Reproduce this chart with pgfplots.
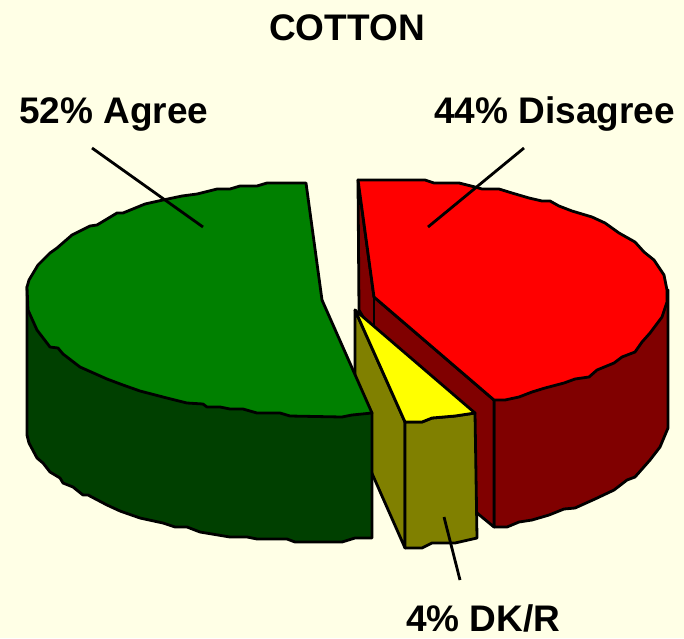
\documentclass[border=0pt]{standalone}
\usepackage{pgfplots}
\pgfplotsset{compat=1.18}
\usepackage{fontspec}
\setmainfont{Liberation Sans}
\definecolor{bgc}{HTML}{FFFFE6}
\definecolor{gtop}{HTML}{008000}
\definecolor{gside}{HTML}{004000}
\definecolor{rtop}{HTML}{FF0000}
\definecolor{rside}{HTML}{800000}
\definecolor{ytop}{HTML}{FFFF00}
\definecolor{yside}{HTML}{808000}
\tikzset{lab/.style={anchor=base west,inner sep=0pt,font=\fontsize{37}{40}\selectfont\bfseries}}
\begin{document}
\begin{tikzpicture}
\begin{axis}[
  x=1pt,y=1pt,xmin=0,xmax=684,ymin=0,ymax=638,y dir=reverse,
  axis line style={draw=none},ticks=none,clip=false,
  axis background/.style={fill=bgc},
  every axis plot/.append style={line width=2.8pt,line join=round,draw=black},
]
% red outer side
\addplot[fill=rside] coordinates {(668,290)(668,428)(660,447)(650,460)(635,477)(627,480)(614,490)(595,499)(575,508)(564,509)(549,515)(532,520)(519,522)(507,527)(494,527)(494,400)} -- cycle;
% red cut side
\addplot[fill=rside] coordinates {(358,180)(374,297)(494,400)(494,527)(477,513)(359,310)} -- cycle;
\addplot[black,no marks] coordinates {(374,297)(374,325)};
% olive side
\addplot[fill=yside] coordinates {(355,310)(405,422)(405,548)(355,435)} -- cycle;
% olive front
\addplot[fill=yside] coordinates {(405,422)(422,422)(432,418)(455,416)(475,413)(477,538)(455,543)(432,543)(422,548)(405,548)} -- cycle;
% yellow top
\addplot[fill=ytop] coordinates {(355,310)(475,413)(455,416)(432,418)(422,422)(405,422)} -- cycle;
% green side
\addplot[fill=gside] coordinates {(27,287)(27,435)(29,443)(37,458)(43,463)(50,472)(60,478)(63,483)(73,487)(83,495)(88,495)(107,505)(120,511)(140,518)(163,523)(175,527)(187,527)(200,532)(230,537)(247,537)(257,539)(287,539)(295,542)(342,542)(355,538)(372,538)(372,413)} -- cycle;
% green top
\addplot[fill=gtop] coordinates {(306,183)(322,300)(372,413)(352,415)(342,417)(290,416)(280,413)(257,413)(243,409)(230,409)(220,407)(207,407)(203,404)(187,403)(163,397)(140,391)(123,385)(107,379)(80,367)(63,354)(58,348)(50,347)(37,330)(28,310)(27,287)(29,280)(38,265)(50,253)(57,248)(72,235)(90,226)(97,225)(117,213)(123,213)(145,204)(163,200)(182,196)(197,194)(217,189)(230,189)(240,186)(257,186)(267,183)} -- cycle;
% red top
\addplot[fill=rtop] coordinates {(358,180)(425,180)(434,183)(459,183)(475,187)(482,189)(499,189)(512,193)(529,198)(542,201)(550,201)(559,206)(572,211)(592,217)(605,223)(619,233)(635,242)(644,252)(654,260)(664,275)(667,290)(667,302)(662,317)(650,333)(642,342)(635,352)(622,357)(614,363)(597,370)(589,377)(575,379)(564,383)(545,388)(532,392)(519,397)(505,400)(494,400)(374,297)} -- cycle;
% leaders
\addplot[black,no marks] coordinates {(92,148)(203,227)};
\addplot[black,no marks] coordinates {(524,148)(428,227)};
\addplot[black,no marks] coordinates {(444,517)(460,580)};
% labels
\node[lab] at (axis cs:269,40) {COTTON};
\node[lab] at (axis cs:19,123) {52\% Agree};
\node[lab] at (axis cs:434,123) {44\% Disagree};
\node[lab] at (axis cs:406,631) {4\% DK/R};
\end{axis}
\end{tikzpicture}
\end{document}
